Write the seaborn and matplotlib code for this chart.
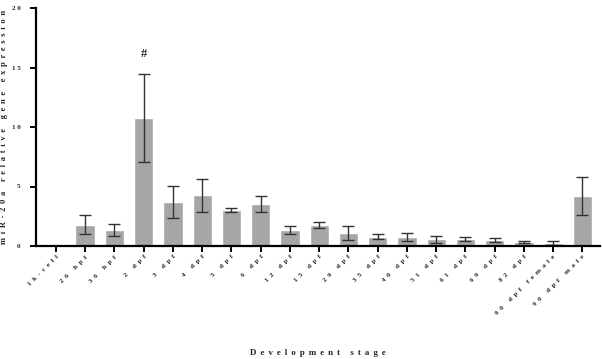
import matplotlib
matplotlib.use("Agg")
import matplotlib.pyplot as plt
import seaborn as sns
import pandas as pd
import numpy as np

categories = ["1k-cell", "26 hpf", "36 hpf", "2 dpf", "3 dpf", "4 dpf", "5 dpf", "6 dpf",
              "12 dpf", "15 dpf", "29 dpf", "35 dpf", "40 dpf", "51 dpf", "61 dpf",
              "69 dpf", "82 dpf", "90 dpf female", "90 dpf male"]
means = [0.0, 1.78, 1.35, 10.75, 3.7, 4.26, 3.0, 3.53, 1.34, 1.76, 1.09, 0.76, 0.76,
         0.56, 0.59, 0.5, 0.34, 0.25, 4.17]
errors = [0.0, 0.8, 0.5, 3.7, 1.33, 1.4, 0.18, 0.69, 0.33, 0.28, 0.55, 0.21, 0.35,
          0.27, 0.17, 0.15, 0.07, 0.17, 1.6]
yticks = [0, 5, 10, 15, 20]

def spaced(s, sep="  "):
    return sep.join(list(s))

sns.set_theme(style="white")
plt.rcParams["font.family"] = ["Liberation Serif", "DejaVu Serif"]

df = pd.DataFrame({"stage": categories, "value": means})

fig = plt.figure(figsize=(6.02, 3.59), dpi=100)
ax = fig.add_axes([36/602, 1-246/359, (600-36)/602, (246-8)/359])

sns.barplot(data=df, x="stage", y="value", color="#a6a6a6", saturation=1,
            width=0.66, errorbar=None, ax=ax)
ax.errorbar(np.arange(len(categories)), means, yerr=errors, fmt="none",
            ecolor="#333333", elinewidth=1.0, capsize=4.5, capthick=1.0)

ax.set_ylim(0, 20)
ax.set_xlim(-0.68, 18.6)
ax.set_yticks(yticks)
ax.set_yticklabels([spaced(str(v), " ") for v in yticks], fontsize=5, fontweight="bold")
ax.set_xticks(np.arange(len(categories)))
ax.set_xticklabels([spaced(c) for c in categories], rotation=45, ha="right", va="top",
                   rotation_mode="anchor", fontsize=5, fontweight="bold")

for s in ["top", "right"]:
    ax.spines[s].set_visible(False)
for s in ["left", "bottom"]:
    ax.spines[s].set_linewidth(1.6)
    ax.spines[s].set_color("black")
ax.tick_params(axis="both", which="major", direction="out", length=4, width=1.4,
               color="black", bottom=True, left=True, pad=2)
ax.tick_params(axis="y", pad=7)

ax.set_xlabel(spaced("Development stage", " \u2009"), fontsize=6.5, fontweight="bold",
              labelpad=0)
ax.xaxis.set_label_coords((318-36)/(600-36), -(349-246)/(246-8))
ax.set_ylabel(spaced("miR-20a relative gene expression", " \u2009"),
              fontsize=6, fontweight="bold")
ax.yaxis.set_label_coords(-(36-8)/(600-36), 0.5)

ax.text(3, 14.45 + 1.2, "#", ha="center", va="bottom", fontsize=9, fontweight="bold")

fig.savefig("out.png", dpi=100)
